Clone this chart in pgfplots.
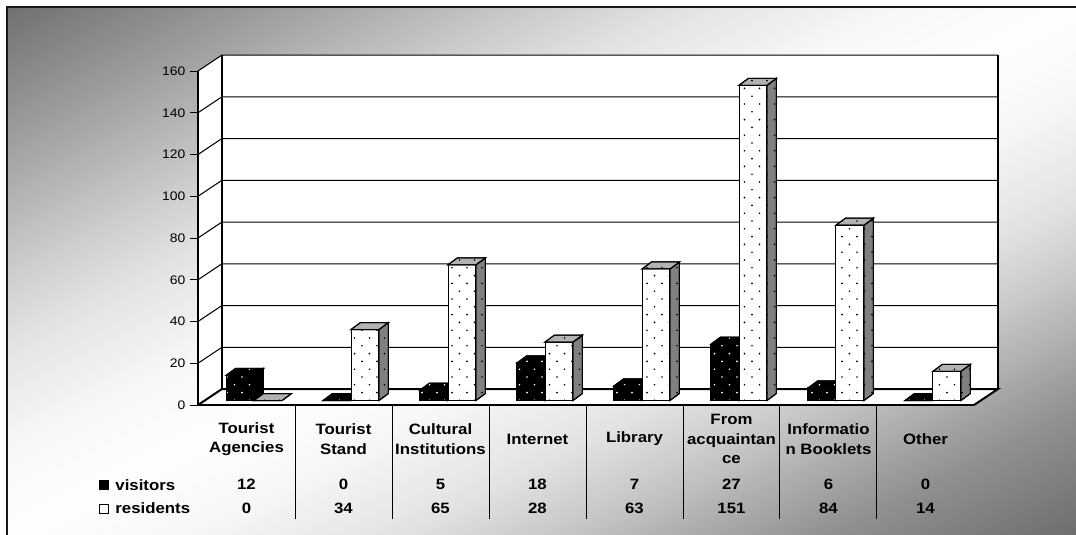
\documentclass[border=0pt]{standalone}
\usepackage{fontspec}
\setmainfont[FakeStretch=1.12]{Liberation Sans}
\usepackage{pgfplots}
\pgfplotsset{compat=1.18}
\usetikzlibrary{patterns}
\pgfdeclarehorizontalshading{bgsh}{100bp}{color(0bp)=(black!56); color(14bp)=(black!36); color(25bp)=(black!20); color(32bp)=(black!11); color(42bp)=(black!3); color(50bp)=(black!0.5); color(58bp)=(black!3); color(68bp)=(black!11); color(75bp)=(black!21); color(88bp)=(black!43); color(100bp)=(black!57)}
\pgfdeclarepatternformonly{mydots}{\pgfqpoint{-1pt}{-1pt}}{\pgfqpoint{12pt}{12pt}}{\pgfqpoint{11.25pt}{11.7pt}}{
  \pgfpathcircle{\pgfqpoint{1.5pt}{1.5pt}}{0.7pt}
  \pgfpathcircle{\pgfqpoint{7.125pt}{7.35pt}}{0.7pt}
  \pgfusepath{fill}}
% one 3D column: category, px offset in the column, value, front, side, top fill, dot colour
\newcommand\threebar[7]{%
  \pgfmathsetmacro\xL{#1-0.5+#2/97}%
  \pgfmathsetmacro\xR{\xL+28/97}%
  \pgfmathsetmacro\xLd{\xL+9.5/97}%
  \pgfmathsetmacro\xRd{\xR+9.5/97}%
  \pgfmathsetmacro\yB{4.5/2.0875}%
  \pgfmathsetmacro\yT{\yB+#3}%
  \pgfmathsetmacro\yBd{\yB+7/2.0875}%
  \pgfmathsetmacro\yTd{\yT+7/2.0875}%
  \addplot[draw=black,line width=0.75pt,fill=#4,postaction={pattern=mydots,pattern color=#7}] coordinates {(\xL,\yB)(\xR,\yB)(\xR,\yT)(\xL,\yT)} --cycle;
  \addplot[draw=black,line width=0.75pt,fill=#5,postaction={pattern=mydots,pattern color=black}] coordinates {(\xR,\yB)(\xRd,\yBd)(\xRd,\yTd)(\xR,\yT)} --cycle;
  \addplot[draw=black,line width=0.75pt,fill=#6,postaction={pattern=mydots,pattern color=#7}] coordinates {(\xL,\yT)(\xR,\yT)(\xRd,\yTd)(\xLd,\yTd)} --cycle;
}
\newcommand\tablerow[3]{%
  \node[font=\bfseries\fontsize{11.25}{13}\selectfont] at (axis cs:#1,-38.2) {#2};
  \node[font=\bfseries\fontsize{11.25}{13}\selectfont] at (axis cs:#1,-49.6) {#3};
}
\newcommand\sep[1]{\draw[black,line width=0.75pt] (axis cs:#1,0) -- (axis cs:#1,-54.6);}
\begin{document}
\begin{tikzpicture}
\useasboundingbox (0,0) rectangle (807pt,-401.25pt);
\fill[white] (0,0) rectangle (807pt,-401.25pt);
\begin{scope}
\clip (5.25pt,-5.25pt) rectangle (807pt,-401.25pt);
\begin{pgfscope}
\pgftransformshift{\pgfpoint{406.125pt}{-203.25pt}}
\pgftransformcm{7.988}{-3.945}{7.988}{3.945}{\pgfpointorigin}
\pgftext{\pgfuseshading{bgsh}}
\end{pgfscope}
\end{scope}
\draw[black!90,line width=0.8pt] (5.25pt,-401.25pt) -- (5.25pt,-5.25pt) -- (807pt,-5.25pt);
\begin{axis}[
  at={(148.5pt,-303.75pt)},anchor=south west,
  scale only axis,width=582pt,height=250.5pt,
  xmin=-0.5,xmax=7.5,ymin=0,ymax=160,
  clip=false,axis on top,
  axis x line=bottom,axis y line=left,
  axis line style={-,line width=1.2pt,black},
  xtick={0,...,7},
  xticklabels={{Tourist\\Agencies},{Tourist\\Stand},{Cultural\\Institutions},{Internet},{Library},{From\\acquaintan\\ce},{Informatio\\n Booklets},{Other}},
  x tick label style={anchor=center,yshift=-19.5pt,align=center,font=\bfseries\fontsize{11.25}{14.6}\selectfont},
  x tick style={draw=none},
  ytick={0,20,...,160},
  y tick label style={font=\fontsize{9.3}{11}\selectfont,/pgf/number format/assume math mode=true},
  y tick style={black,line width=0.6pt},
  tick align=outside,major tick length=6pt,
]
% walls and floor
\addplot[draw=none,fill=white] coordinates {(-0.5,0)(-0.2526,7.66)(-0.2526,167.66)(-0.5,160)} --cycle;
\addplot[draw=none,fill=white] coordinates {(-0.2526,7.66)(7.7474,7.66)(7.7474,167.66)(-0.2526,167.66)} --cycle;
\addplot[draw=none,fill=white] coordinates {(-0.5,0)(7.5,0)(7.7474,7.66)(-0.2526,7.66)} --cycle;
% grid on the walls
\pgfplotsinvokeforeach{20,40,60,80,100,120,140,160}{
  \addplot[black,line width=0.75pt] coordinates {(-0.5,#1)(-0.2526,#1+7.66)(7.7474,#1+7.66)};
}
\addplot[black,line width=1.5pt] coordinates {(-0.5,0)(-0.2526,7.66)(7.7474,7.66)(7.5,0)};
\addplot[black,line width=1pt] coordinates {(-0.2526,7.66)(-0.2526,167.66)};
\addplot[black,line width=1pt] coordinates {(7.7474,7.66)(7.7474,167.66)};
% columns
\threebar{0}{28}{12}{black}{black}{black}{white}
\threebar{0}{56}{0}{white}{black!30}{black!30}{black}
\threebar{1}{28}{0}{black}{black}{black}{white}
\threebar{1}{56}{34}{white}{black!50}{black!30}{black}
\threebar{2}{28}{5}{black}{black}{black}{white}
\threebar{2}{56}{65}{white}{black!50}{black!30}{black}
\threebar{3}{28}{18}{black}{black}{black}{white}
\threebar{3}{56}{28}{white}{black!50}{black!30}{black}
\threebar{4}{28}{7}{black}{black}{black}{white}
\threebar{4}{56}{63}{white}{black!50}{black!30}{black}
\threebar{5}{28}{27}{black}{black}{black}{white}
\threebar{5}{56}{151}{white}{black!50}{black!30}{black}
\threebar{6}{28}{6}{black}{black}{black}{white}
\threebar{6}{56}{84}{white}{black!50}{black!30}{black}
\threebar{7}{28}{0}{black}{black}{black}{white}
\threebar{7}{56}{14}{white}{black!50}{black!30}{black}
% data table
\sep{0.5}\sep{1.5}\sep{2.5}\sep{3.5}\sep{4.5}\sep{5.5}\sep{6.5}
\tablerow{0}{12}{0}
\tablerow{1}{0}{34}
\tablerow{2}{5}{65}
\tablerow{3}{18}{28}
\tablerow{4}{7}{63}
\tablerow{5}{27}{151}
\tablerow{6}{6}{84}
\tablerow{7}{0}{14}
\node[anchor=west,font=\bfseries\fontsize{11.25}{13}\selectfont] at (axis cs:-1.40,-38.2) {visitors};
\node[anchor=west,font=\bfseries\fontsize{11.25}{13}\selectfont] at (axis cs:-1.40,-49.6) {residents};
\addplot[only marks,mark=square*,mark size=3.3pt,mark options={fill=black,draw=black}] coordinates {(-1.47,-38.2)};
\addplot[only marks,mark=square*,mark size=3.3pt,mark options={fill=white,draw=black,line width=0.5pt}] coordinates {(-1.47,-49.6)};
\end{axis}
\end{tikzpicture}
\end{document}
